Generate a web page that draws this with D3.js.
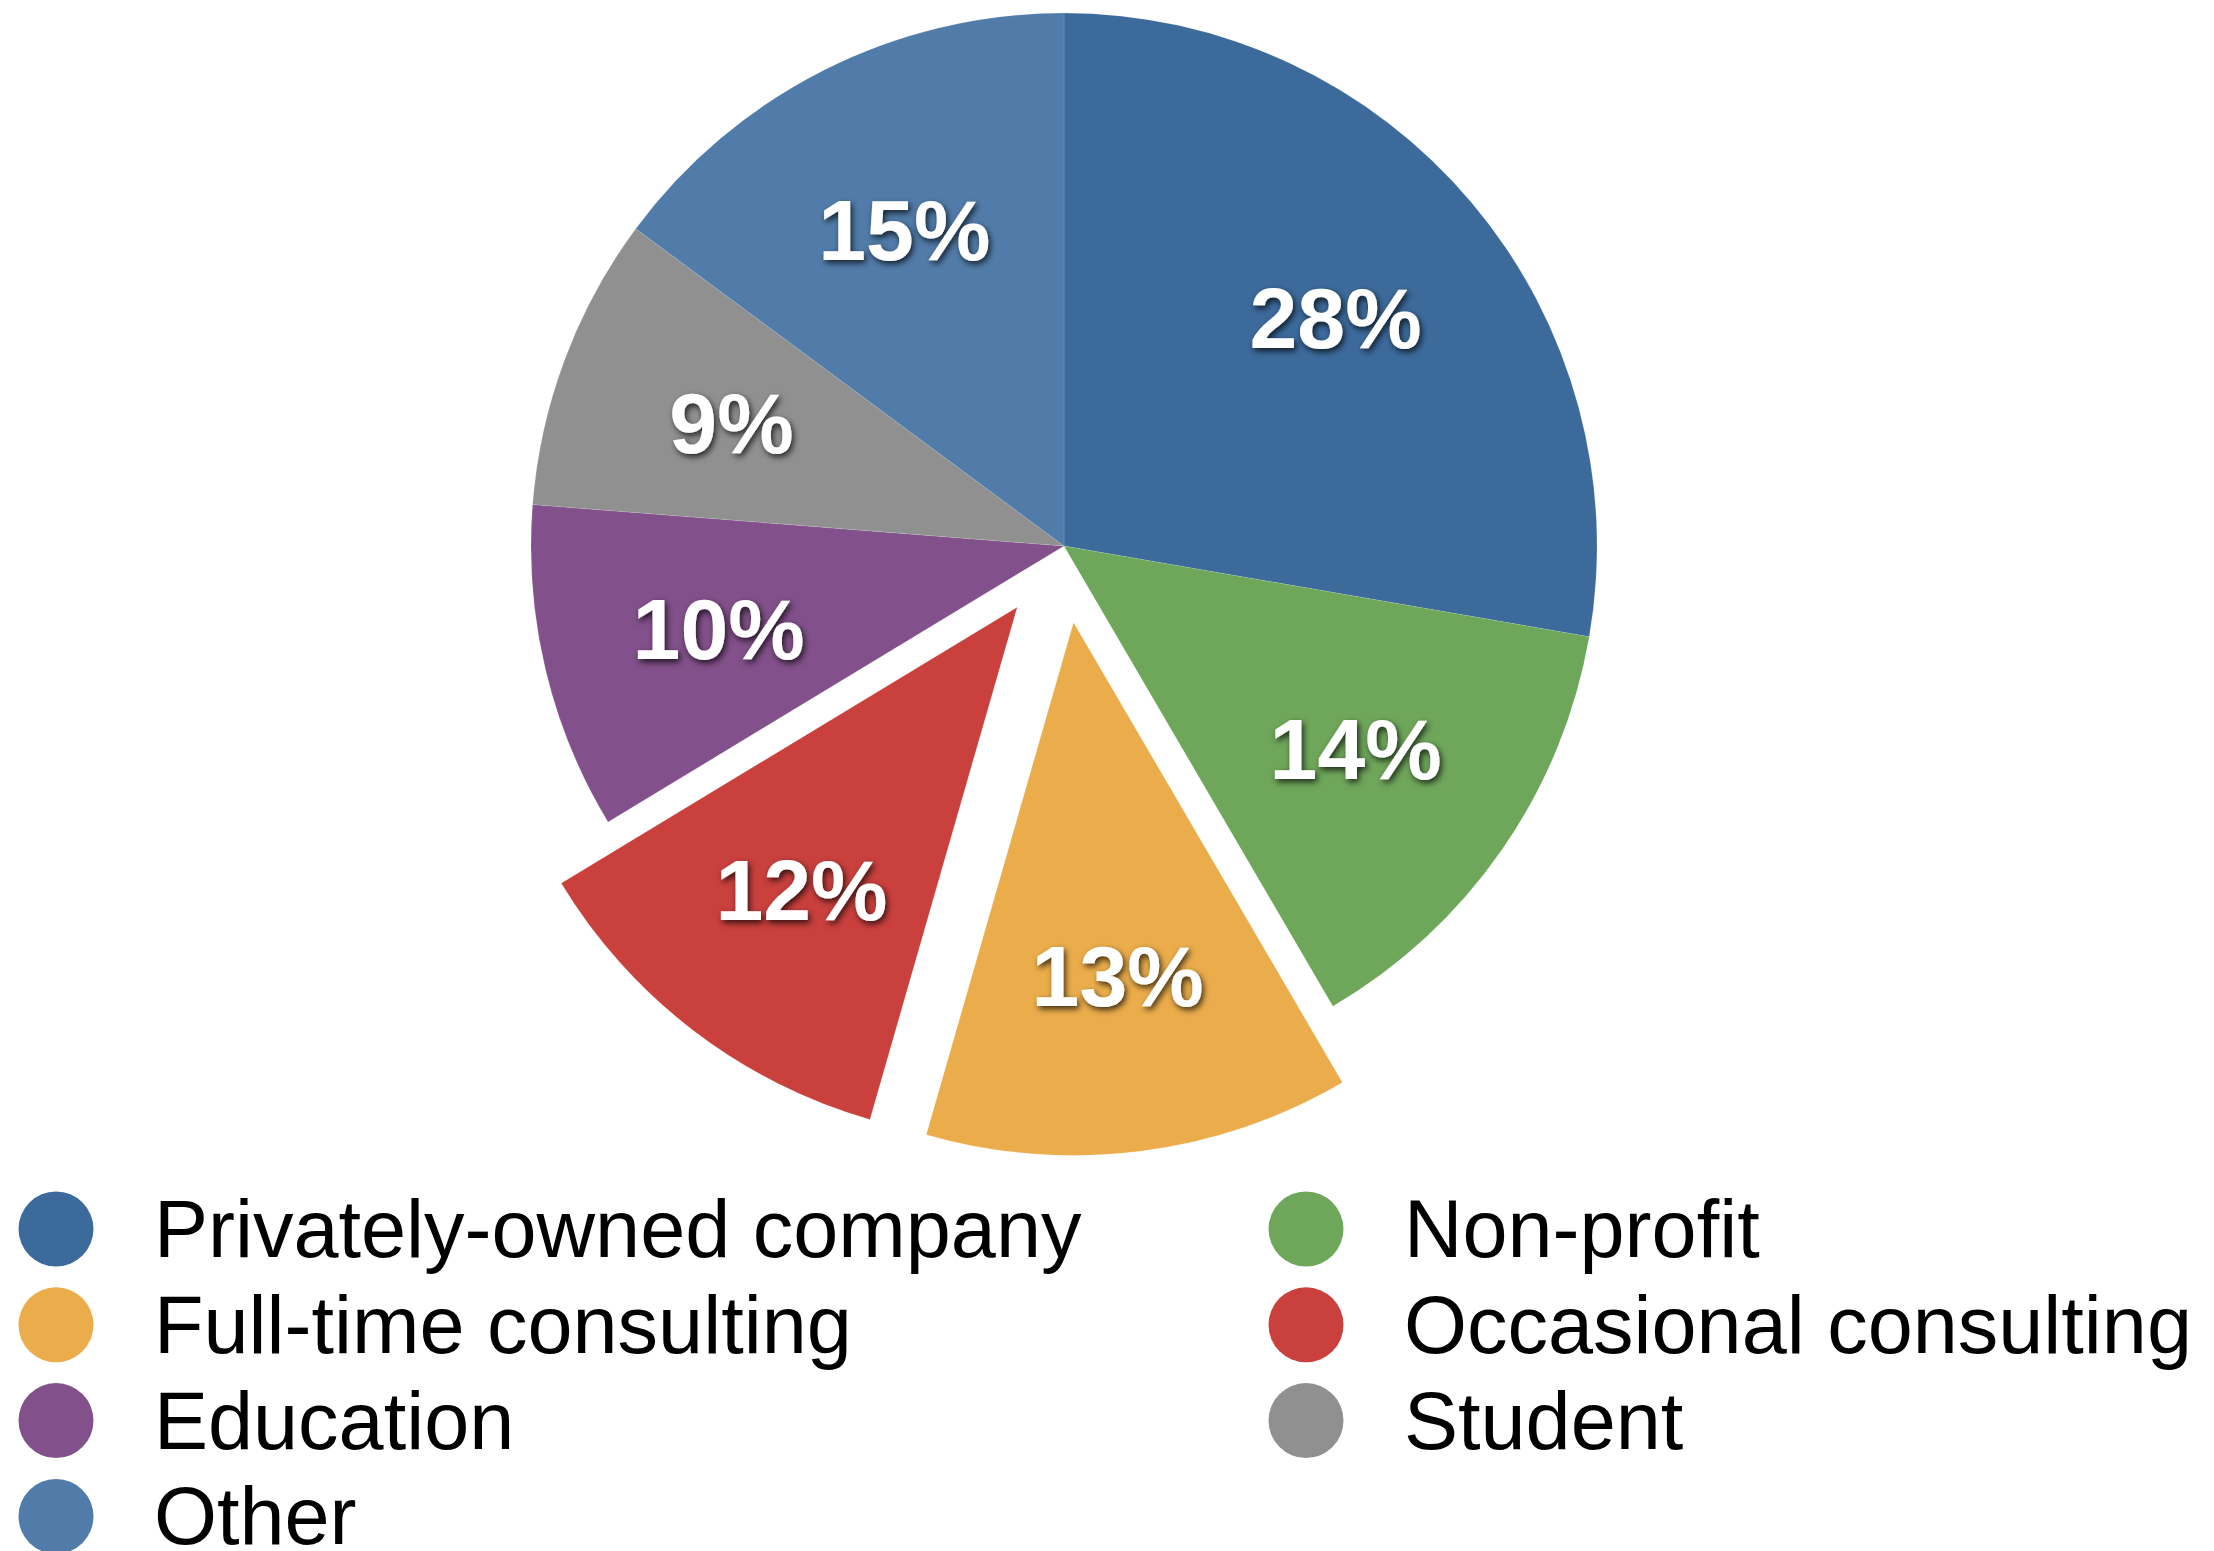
<!DOCTYPE html>
<html>
<head>
<meta charset="utf-8">
<script src="https://cdn.jsdelivr.net/npm/d3@7"></script>
<style>
  html, body { margin: 0; padding: 0; background: #fff; }
  svg { display: block; }
</style>
</head>
<body>
<svg id="chart" width="2214" height="1551"></svg>
<script>
// Employment type breakdown (percent of respondents)
const categories = [
  "Privately-owned company",
  "Non-profit",
  "Full-time consulting",
  "Occasional consulting",
  "Education",
  "Student",
  "Other"
];
const values = [28, 14, 13, 12, 10, 9, 15];
const pieLabels = ["28%", "14%", "13%", "12%", "10%", "9%", "15%"];
// slices pulled out from the pie
const exploded = ["Full-time consulting", "Occasional consulting"];

const palette = ["#3c6a9b", "#6ea65a", "#ebad4b", "#c9403d", "#82508a", "#8f908f", "#517ca9"];

const W = 2214, H = 1551;
const cx = 1064, cy = 546, R = 533;
const explode = 77;
const labelR = 355;

const svg = d3.select("#chart");

// soft drop shadow behind the slice percentages
const defs = svg.append("defs");
const f = defs.append("filter").attr("id", "txtShadow")
  .attr("x", "-20%").attr("y", "-30%").attr("width", "140%").attr("height", "160%");
f.append("feDropShadow").attr("dx", 2).attr("dy", 3).attr("stdDeviation", 3)
  .attr("flood-color", "#000").attr("flood-opacity", 0.75);

const color = d3.scaleOrdinal().domain(categories).range(palette);

const pie = d3.pie().sort(null).value(d => d.value);
const data = categories.map((c, i) => ({ name: c, value: values[i], label: pieLabels[i] }));
const arcs = pie(data);

const arc = d3.arc().innerRadius(0).outerRadius(R);

const offsetOf = a => {
  if (!exploded.includes(a.data.name)) return [0, 0];
  const m = (a.startAngle + a.endAngle) / 2;
  return [Math.sin(m) * explode, -Math.cos(m) * explode];
};

const g = svg.append("g").attr("transform", `translate(${cx},${cy})`);

const slice = g.selectAll("g.slice").data(arcs).join("g")
  .attr("class", "slice")
  .attr("transform", a => { const [dx, dy] = offsetOf(a); return `translate(${dx},${dy})`; });

slice.append("path")
  .attr("d", arc)
  .attr("fill", a => color(a.data.name))
  .attr("stroke", "rgba(255,255,255,0.12)")
  .attr("stroke-width", 1);

slice.append("text")
  .attr("transform", a => {
    const m = (a.startAngle + a.endAngle) / 2;
    return `translate(${Math.sin(m) * labelR},${-Math.cos(m) * labelR})`;
  })
  .attr("text-anchor", "middle")
  .attr("dy", "0.36em")
  .attr("font-family", "'Liberation Sans', Arial, Helvetica, sans-serif")
  .attr("font-weight", "bold")
  .attr("font-size", 86)
  .attr("fill", "#fff")
  .attr("filter", "url(#txtShadow)")
  .text(a => a.data.label);

// two-column legend, filled row by row
const colX = [56, 1306];
const textOff = 98;
const rowY0 = 1229, rowStep = 95.8;

const legend = svg.append("g").selectAll("g").data(categories).join("g")
  .attr("transform", (d, i) => `translate(${colX[i % 2]},${rowY0 + Math.floor(i / 2) * rowStep})`);

legend.append("circle")
  .attr("r", 37.5)
  .attr("fill", d => color(d));

legend.append("text")
  .attr("x", textOff)
  .attr("y", 28)
  .attr("font-family", "'Liberation Sans', Arial, Helvetica, sans-serif")
  .attr("font-size", 81)
  .attr("fill", "#000")
  .text(d => d);
</script>
</body>
</html>
